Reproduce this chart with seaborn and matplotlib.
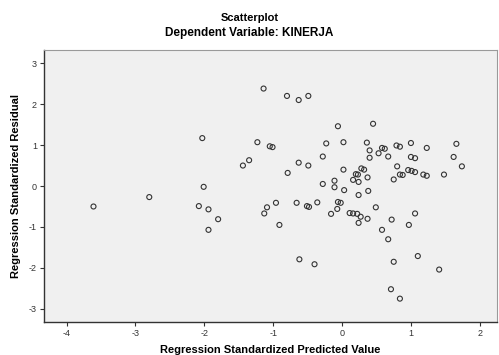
import pandas as pd
import matplotlib
matplotlib.use("Agg")
import matplotlib.pyplot as plt
import seaborn as sns

# predicted value (x) and residual (y)
pred = [-1.14, -2.03, -1.23, -1.05, -1.01, -1.35, -1.44, -2.01, -3.61, -2.80,
        -2.08, -1.94, -1.80, -1.94, -1.09, -1.13, -0.96, -0.91, -0.80, -0.63,
        -0.49, -0.06, 0.45, -0.23, 0.02, 0.36, 0.40, 0.58, 0.62, 0.53,
        0.79, 0.84, 1.00, 1.23, 1.66, -0.28, 0.40, 0.67, 1.00, 1.06,
        1.62, -0.63, -0.49, 1.74, 0.02, 0.28, 0.32, 0.80, -0.79, 0.20,
        0.23, 0.16, 0.24, 0.37, -0.11, -0.28, -0.11, 0.03, 0.24, 0.38,
        0.96, 1.01, 1.06, 0.84, 0.88, 0.75, 1.18, 1.23, 1.48, -0.66,
        -0.51, -0.48, -0.36, -0.06, -0.02, -0.07, -0.16, 0.11, 0.16, 0.22,
        0.27, 0.37, 0.24, 0.49, 0.72, 1.06, 0.97, 0.58, 0.67, -0.62,
        -0.40, 1.10, 0.75, 1.41, 0.71, 0.84]
resid = [2.38, 1.17, 1.07, 0.97, 0.95, 0.63, 0.50, -0.02, -0.50, -0.27,
         -0.49, -0.57, -0.81, -1.07, -0.52, -0.67, -0.41, -0.95, 2.20, 2.10,
         2.20, 1.46, 1.52, 1.04, 1.07, 1.06, 0.87, 0.93, 0.91, 0.80,
         0.99, 0.96, 1.05, 0.93, 1.03, 0.72, 0.69, 0.72, 0.71, 0.68,
         0.71, 0.57, 0.50, 0.48, 0.40, 0.43, 0.40, 0.48, 0.32, 0.29,
         0.28, 0.15, 0.10, 0.21, 0.13, 0.05, -0.03, -0.10, -0.22, -0.12,
         0.39, 0.37, 0.34, 0.28, 0.27, 0.16, 0.28, 0.25, 0.28, -0.41,
         -0.49, -0.51, -0.40, -0.39, -0.41, -0.56, -0.68, -0.66, -0.67, -0.68,
         -0.75, -0.80, -0.90, -0.52, -0.82, -0.67, -0.95, -1.07, -1.30, -1.79,
         -1.91, -1.71, -1.85, -2.04, -2.52, -2.75]

x_ticks = [-4, -3, -2, -1, 0, 1, 2]
y_ticks = [-3, -2, -1, 0, 1, 2, 3]

df = pd.DataFrame({"pred": pred, "resid": resid})

sns.set_style("white")
plt.rcParams["font.family"] = ["Liberation Sans", "DejaVu Sans"]
plt.rcParams["axes.unicode_minus"] = False
plt.rcParams["text.color"] = "black"
plt.rcParams["axes.labelcolor"] = "black"

fig = plt.figure(figsize=(4.99, 3.55), dpi=100)
ax = fig.add_axes([0.088, 0.093, 0.908, 0.766])
ax.set_facecolor("#f0f0f0")

sns.scatterplot(x="pred", y="resid", data=df, ax=ax, marker="o", s=13,
                facecolor="none", edgecolor="#333333", linewidth=0.8)

ax.set_xlim(-4.33, 2.25)
ax.set_ylim(-3.32, 3.32)
ax.set_xticks(x_ticks)
ax.set_yticks(y_ticks)
ax.tick_params(axis="both", direction="out", length=3, width=0.8,
               labelsize=6.5, colors="#333333", pad=2, left=True, bottom=True)

for side in ["left", "bottom"]:
    ax.spines[side].set_color("#333333")
    ax.spines[side].set_linewidth(1.0)
for side in ["top", "right"]:
    ax.spines[side].set_color("#9a9a9a")
    ax.spines[side].set_linewidth(0.8)

ax.set_xlabel("Regression Standardized Predicted Value", fontsize=8,
              fontweight="bold", labelpad=5, color="black")
ax.set_ylabel("Regression Standardized Residual", fontsize=8,
              fontweight="bold", labelpad=6, color="black")

fig.text(0.5, 0.949, "Scatterplot", ha="center", va="center",
         fontsize=8, fontweight="bold", color="black")
fig.text(0.5, 0.907, "Dependent Variable: KINERJA", ha="center", va="center",
         fontsize=8.5, fontweight="bold", color="black")

fig.savefig("out.png", dpi=100)
